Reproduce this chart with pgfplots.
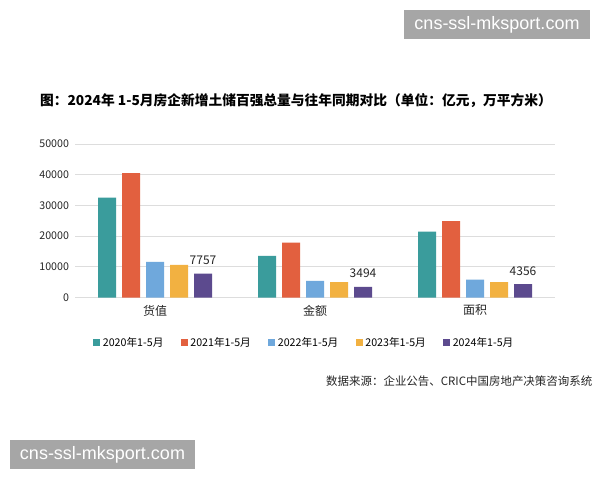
\documentclass[border=0pt]{standalone}
\usepackage{pgfplots}
\pgfplotsset{compat=1.18}
\usepackage{fontspec}
\setmainfont{Noto Sans CJK SC}
\newfontfamily\cjk{Noto Sans CJK SC}
\newfontfamily\wm{Liberation Sans}

\definecolor{cteal}{HTML}{3A9C9C}
\definecolor{corange}{HTML}{E2603F}
\definecolor{cblue}{HTML}{6FA8DC}
\definecolor{cyellow}{HTML}{F2B141}
\definecolor{cpurple}{HTML}{5C4A8E}
\definecolor{cgrid}{HTML}{DDDDDD}
\definecolor{cwm}{HTML}{A6A6A6}

% 1px = 0.75pt, y counted from the top of a 600x480 image
\newcommand{\px}[2]{(#1*0.75pt,{(480-#2)*0.75pt})}

\begin{document}
\begin{tikzpicture}
\path[use as bounding box, fill=white] (0,0) rectangle (450pt,360pt);

\node[font=\cjk\bfseries\fontsize{10.3}{12}\selectfont] at \px{296}{101}
  {图：2024年 1-5月房企新增土储百强总量与往年同期对比（单位：亿元，万平方米）};

\begin{axis}[
  at={(56.25pt,136.875pt)}, anchor=south west,
  scale only axis, width=360pt, height=115.1pt,
  ymin=0, ymax=50000, ytick distance=10000,
  xmin=-0.5, xmax=2.5,
  xtick=data, xticklabels={货值,金额,面积},
  ybar=4.5pt, bar width=13.5pt,
  axis x line*=bottom, axis y line*=left,
  x axis line style={draw=cgrid, line width=0.8pt},
  y axis line style={draw=none},
  ymajorgrids, grid style={draw=cgrid, line width=0.6pt},
  major tick length=0pt,
  ticklabel style={font=\fontsize{8}{9}\selectfont, text=black!85},
  /pgf/number format/assume math mode=true,
  /pgf/number format/set thousands separator={},
  scaled y ticks=false,
  yticklabel style={xshift=-1pt},
  xticklabel style={font=\fontsize{9}{10}\selectfont, yshift=-2pt},
  legend columns=5,
  legend style={draw=none, fill=none, at={(0.0375,-0.296)}, anchor=west,
    font=\fontsize{8}{9}\selectfont, inner sep=0pt,
    /tikz/every even column/.append style={column sep=11pt}},
  legend image code/.code={\fill[#1] (0pt,-2.6pt) rectangle (5.2pt,2.6pt);},
  nodes near coords style={font=\fontsize{9}{10}\selectfont, text=black!85},
]
\addplot[fill=cteal, draw=none] coordinates {(0,32560) (1,13570) (2,21440)};
\addplot[fill=corange, draw=none] coordinates {(0,40500) (1,17840) (2,24920)};
\addplot[fill=cblue, draw=none] coordinates {(0,11570) (1,5380) (2,5800)};
\addplot[fill=cyellow, draw=none] coordinates {(0,10600) (1,5050) (2,5050)};
\addplot[fill=cpurple, draw=none, nodes near coords,
  every node near coord/.append style={yshift=3pt}] coordinates {(0,7757) (1,3494) (2,4356)};
\legend{2020年1-5月,2021年1-5月,2022年1-5月,2023年1-5月,2024年1-5月}
\end{axis}

\node[anchor=east, font=\fontsize{8.6}{10}\selectfont, text=black!85] at \px{597}{381}
  {数据来源：企业公告、CRIC中国房地产决策咨询系统};

\fill[cwm] \px{404}{10} rectangle \px{590}{39};
\node[text=white, font=\wm\fontsize{13.5}{15}\selectfont] at \px{497}{24.5} {cns-ssl-mksport.com};
\fill[cwm] \px{10}{440} rectangle \px{195}{469};
\node[text=white, font=\wm\fontsize{13.5}{15}\selectfont] at \px{102.5}{454.5} {cns-ssl-mksport.com};
\end{tikzpicture}
\end{document}
